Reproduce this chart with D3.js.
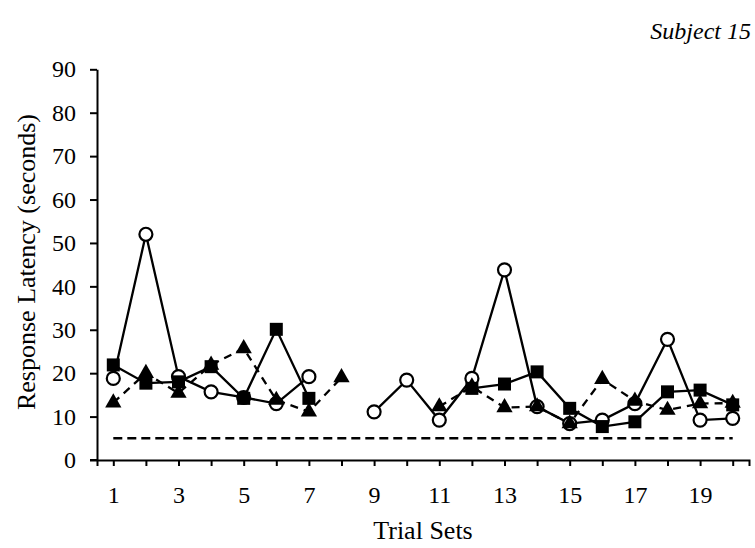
<!DOCTYPE html>
<html>
<head>
<meta charset="utf-8">
<script src="https://cdn.jsdelivr.net/npm/d3@7"></script>
<style>
  body { margin: 0; background: #fff; }
  svg { display: block; font-family: "Liberation Serif", "Times New Roman", serif; }
</style>
</head>
<body>
<script>
// trial sets on the x axis, labels only on odd sets
const trials = [1, 2, 3, 4, 5, 6, 7, 8, 9, 10, 11, 12, 13, 14, 15, 16, 17, 18, 19, 20];
const xLabels = ['1', '3', '5', '7', '9', '11', '13', '15', '17', '19'];
const yTicks = [0, 10, 20, 30, 40, 50, 60, 70, 80, 90];

// response latencies (seconds), null = no data
const openCircle = [18.8, 52.0, 19.2, 15.7, 14.4, 13.0, 19.2, null, 11.1, 18.4,
                    9.2, 18.8, 43.8, 12.3, 8.4, 9.2, 13.0, 27.8, 9.2, 9.6];
const filledSquare = [21.9, 17.7, 18.0, 21.5, 14.2, 30.1, 14.2, null, null, null,
                      null, 16.5, 17.5, 20.3, 11.9, 7.7, 8.8, 15.7, 16.1, 12.7];
const filledTriangle = [13.2, 20.0, 15.4, 21.9, 25.7, 13.8, 11.1, 19.0, null, null,
                        12.3, 16.9, 12.1, 12.3, 8.4, 18.6, 13.6, 11.5, 13.0, 13.1];
const criterion = 5;

const W = 755, H = 548;

const svg = d3.select('body').append('svg')
    .attr('width', W)
    .attr('height', H);

const x = d3.scaleLinear().domain([0.5, 20.5]).range([97, 749]);
const y = d3.scaleLinear().domain([0, 90]).range([460, 69.3]);

// axes
const xAxis = d3.axisBottom(x)
    .tickValues(trials)
    .tickSize(6)
    .tickSizeOuter(6)
    .tickPadding(20)
    .tickFormat(d => xLabels.includes(String(d)) ? d : '');
const yAxis = d3.axisLeft(y)
    .tickValues(yTicks)
    .tickSize(7)
    .tickSizeOuter(0)
    .tickPadding(14);

const gx = svg.append('g')
    .attr('transform', 'translate(0,' + y(0) + ')')
    .call(xAxis);
const gy = svg.append('g')
    .attr('transform', 'translate(' + x(0.5) + ',0)')
    .call(yAxis);

[gx, gy].forEach(g => {
    g.selectAll('path, line').attr('stroke', '#000').attr('stroke-width', 2);
    g.selectAll('text').attr('fill', '#000').style('font-size', '24px');
    g.attr('font-family', null);
});
// x axis line reaches under the y axis tick like the original
gx.append('line')
    .attr('x1', x(0.5) - 7).attr('x2', x(0.5))
    .attr('stroke', '#000').attr('stroke-width', 2);

// criterion line
svg.append('line')
    .attr('x1', x(1)).attr('x2', x(20))
    .attr('y1', y(criterion)).attr('y2', y(criterion))
    .attr('stroke', '#000')
    .attr('stroke-width', 2.5)
    .attr('stroke-dasharray', '9,5');

const line = d3.line()
    .defined(d => d.v != null)
    .x(d => x(d.t))
    .y(d => y(d.v));

const toPts = arr => trials.map((t, i) => ({t: t, v: arr[i]}));
const circlePts = toPts(openCircle);
const squarePts = toPts(filledSquare);
const trianglePts = toPts(filledTriangle);

// lines first
svg.append('path').datum(circlePts)
    .attr('d', line).attr('fill', 'none').attr('stroke', '#000').attr('stroke-width', 2.3);
svg.append('path').datum(squarePts)
    .attr('d', line).attr('fill', 'none').attr('stroke', '#000').attr('stroke-width', 2.3);
svg.append('path').datum(trianglePts)
    .attr('d', line).attr('fill', 'none').attr('stroke', '#000').attr('stroke-width', 2.3)
    .attr('stroke-dasharray', '8,6');

// markers
svg.append('g').selectAll('circle')
    .data(circlePts.filter(d => d.v != null))
    .enter().append('circle')
    .attr('cx', d => x(d.t))
    .attr('cy', d => y(d.v))
    .attr('r', 6.5)
    .attr('fill', '#fff')
    .attr('stroke', '#000')
    .attr('stroke-width', 2.2);

const sq = 13;
svg.append('g').selectAll('rect')
    .data(squarePts.filter(d => d.v != null))
    .enter().append('rect')
    .attr('x', d => x(d.t) - sq / 2)
    .attr('y', d => y(d.v) - sq / 2)
    .attr('width', sq)
    .attr('height', sq)
    .attr('fill', '#000');

const tri = d3.symbol(d3.symbolTriangle, 115);
svg.append('g').selectAll('path')
    .data(trianglePts.filter(d => d.v != null))
    .enter().append('path')
    .attr('d', tri)
    .attr('transform', d => 'translate(' + x(d.t) + ',' + y(d.v) + ')')
    .attr('fill', '#000');

// titles
svg.append('text')
    .text('Trial Sets')
    .attr('x', 423)
    .attr('y', 539)
    .attr('text-anchor', 'middle')
    .style('font-size', '26px');
svg.append('text')
    .text('Response Latency (seconds)')
    .attr('transform', 'translate(35,262) rotate(-90)')
    .attr('text-anchor', 'middle')
    .style('font-size', '26px');
svg.append('text')
    .text('Subject 15')
    .attr('x', 751)
    .attr('y', 39)
    .attr('text-anchor', 'end')
    .style('font-size', '24px')
    .style('font-style', 'italic');
</script>
</body>
</html>
